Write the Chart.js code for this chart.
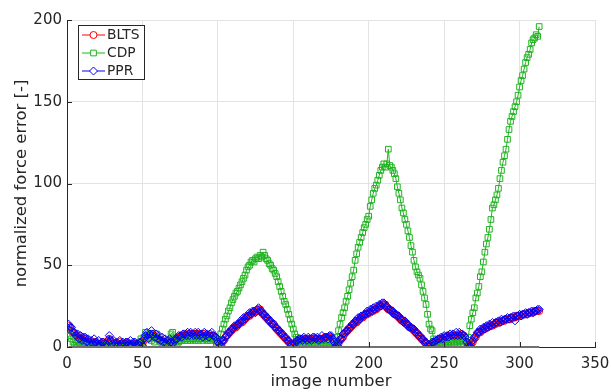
<!DOCTYPE html>
<html>
<head>
<meta charset="utf-8">
<script src="https://cdn.jsdelivr.net/npm/chart.js@4/dist/chart.umd.min.js"></script>
<style>
  html, body { margin: 0; padding: 0; background: #fff; }
  #c { display: block; }
</style>
</head>
<body>
<canvas id="c" width="611" height="392"></canvas>
<script>
// Normalized force error per image, images 1..313
const firstImage = 1;

const blts = [
  13, 12, 10, 9, 8, 7, 6, 6, 5, 5,
  5, 5, 4, 3, 3, 3, 2, 3, 3, 2,
  2, 2, 2, 3, 2, 2, 3, 5, 4, 3,
  2, 2, 2, 2, 3, 2, 2, 2, 2, 3,
  2, 2, 2, 2, 2, 2, 2, 2, 2, 2,
  4, 6, 7, 6, 7, 8, 8, 6, 6, 5,
  5, 4, 4, 3, 3, 3, 3, 3, 3, 3,
  3, 4, 5, 6, 6, 7, 7, 7, 7, 8,
  8, 8, 8, 8, 8, 7, 8, 8, 7, 8,
  8, 7, 7, 7, 7, 7, 7, 6, 5, 3,
  2, 2, 3, 4, 6, 7, 8, 9, 10, 11,
  12, 12, 13, 14, 15, 15, 16, 17, 18, 19,
  19, 20, 21, 21, 22, 22, 23, 23, 21, 20,
  19, 18, 17, 16, 15, 14, 14, 12, 11, 10,
  9, 8, 7, 6, 5, 4, 3, 2, 2, 1,
  2, 3, 3, 4, 4, 5, 5, 5, 5, 5,
  5, 5, 5, 5, 5, 5, 5, 5, 5, 5,
  6, 6, 6, 6, 6, 5, 3, 1, 1, 2,
  4, 5, 6, 8, 9, 10, 11, 12, 13, 14,
  15, 15, 16, 17, 18, 18, 19, 20, 20, 21,
  21, 22, 22, 23, 23, 24, 25, 25, 26, 26,
  26, 24, 23, 23, 22, 21, 20, 20, 19, 18,
  17, 16, 16, 15, 14, 13, 12, 12, 11, 10,
  9, 8, 7, 6, 5, 4, 3, 2, 1, 1,
  1, 2, 2, 3, 3, 4, 4, 5, 5, 6,
  6, 6, 7, 7, 7, 7, 7, 7, 7, 7,
  8, 7, 7, 6, 3, 2, 1, 2, 3, 5,
  6, 8, 9, 9, 10, 11, 11, 12, 12, 13,
  13, 13, 14, 14, 15, 15, 15, 16, 16, 16,
  17, 17, 17, 17, 18, 18, 18, 19, 19, 19,
  19, 20, 20, 20, 20, 21, 21, 21, 21, 22,
  22, 22, 22
];

const cdp = [
  10, 7, 5, 3, 1, 2, 0.5, 1, 2, 0.5,
  1, 0.5, 1, 0.5, 2, 1, 0.5, 1, 0.5, 0.5,
  1, 0.5, 0.5, 1, 0.5, 1, 0.5, 0.5, 1, 0.5,
  0.5, 1, 0.5, 0.5, 1, 0.5, 0.5, 1, 0.5, 0.5,
  1, 0.5, 0.5, 1, 0.5, 0.5, 1, 2, 5, 3,
  6, 9, 7, 8, 5, 4, 6, 3, 8, 5,
  4, 3, 2, 1, 0.5, 0.5, 1, 4, 8, 9,
  5, 3, 2, 3, 4, 4, 5, 4, 5, 4,
  5, 4, 5, 5, 4, 5, 4, 5, 5, 4,
  5, 5, 4, 5, 4, 5, 5, 4, 2, 1,
  4, 8, 11, 14, 17, 19, 22, 24, 27, 29,
  31, 33, 34, 36, 38, 40, 42, 44, 47, 49,
  50, 52, 53, 52, 54, 55, 54, 56, 55, 58,
  56, 54, 53, 51, 50, 48, 47, 45, 43, 40,
  37, 34, 31, 28, 26, 23, 20, 17, 14, 11,
  8, 6, 3, 1, 0.5, 0.5, 0.5, 1, 0.5, 0.5,
  0.5, 1, 0.5, 0.5, 0.5, 1, 0.5, 0.5, 0.5, 1,
  0.5, 0.5, 1, 2, 1, 0.5, 0.5, 1, 6, 10,
  14, 18, 21, 24, 28, 31, 35, 39, 43, 47,
  53, 57, 61, 64, 67, 70, 73, 75, 78, 80,
  86, 90, 94, 97, 99, 102, 105, 108, 110, 112,
  110, 112, 121, 111, 110, 108, 106, 103, 98, 94,
  90, 85, 82, 78, 75, 71, 67, 62, 58, 53,
  49, 46, 44, 42, 38, 34, 30, 26, 20, 14,
  11, 10, 5, 1, 0.5, 0.5, 1, 0.5, 1, 2,
  1, 2, 1, 2, 3, 2, 2, 3, 2, 3,
  4, 3, 4, 5, 3, 6, 13, 17, 21, 24,
  30, 33, 37, 43, 46, 52, 58, 63, 67, 72,
  78, 85, 87, 90, 93, 97, 103, 108, 113, 117,
  121, 127, 133, 138, 141, 144, 147, 150, 154, 159,
  163, 166, 170, 174, 177, 179, 182, 186, 188, 189,
  191, 190, 196
];

const ppr = [
  14, 12, 12, 9, 9, 7, 8, 5, 7, 4,
  6, 6, 3, 5, 2, 4, 2, 5, 3, 1,
  4, 1, 3, 3, 1, 2, 4, 7, 4, 2,
  4, 2, 3, 1, 4, 2, 3, 1, 3, 3,
  1, 4, 1, 3, 3, 1, 2, 3, 3, 1,
  5, 7, 9, 5, 8, 10, 8, 6, 8, 5,
  7, 4, 6, 3, 5, 2, 4, 5, 3, 2,
  4, 5, 5, 7, 7, 6, 8, 8, 7, 9,
  7, 9, 8, 7, 9, 7, 9, 7, 8, 6,
  9, 7, 8, 6, 8, 9, 7, 6, 6, 3,
  2, 1, 4, 4, 6, 7, 9, 9, 11, 11,
  13, 13, 14, 14, 16, 16, 18, 17, 19, 19,
  21, 20, 22, 22, 21, 23, 24, 22, 22, 20,
  20, 18, 18, 16, 16, 14, 14, 12, 12, 10,
  10, 8, 8, 6, 6, 4, 4, 2, 1, 0.5,
  2, 4, 4, 5, 5, 4, 6, 5, 4, 6,
  5, 4, 6, 6, 5, 6, 4, 5, 7, 5,
  6, 6, 5, 7, 7, 5, 3, 0.5, 1, 3,
  5, 5, 8, 8, 10, 10, 12, 12, 14, 14,
  16, 16, 18, 17, 19, 19, 20, 20, 22, 21,
  23, 22, 24, 23, 25, 24, 26, 25, 27, 27,
  25, 25, 23, 23, 22, 22, 20, 20, 19, 19,
  17, 17, 15, 16, 14, 14, 12, 12, 11, 11,
  9, 9, 7, 7, 5, 5, 3, 3, 1, 0.5,
  1, 3, 3, 4, 4, 5, 5, 6, 5, 7,
  6, 7, 6, 8, 7, 8, 7, 9, 7, 9,
  7, 8, 7, 6, 3, 1, 0.5, 3, 4, 6,
  7, 9, 9, 11, 10, 12, 11, 13, 12, 14,
  13, 15, 14, 15, 15, 16, 15, 17, 16, 17,
  17, 18, 17, 18, 18, 19, 16, 19, 19, 20,
  19, 20, 20, 21, 20, 21, 21, 22, 21, 22,
  22, 23, 23
];

// Zero reference line drawn across the processed images
const zeroLevel = 0;
const zeroSpan = [1, 313];

const xTicks = [0, 50, 100, 150, 200, 250, 300, 350];
const yTicks = [0, 50, 100, 150, 200];
const xTitle = 'image number';
const yTitle = 'normalized force error [-]';

const toPoints = arr => arr.map((v, i) => ({ x: firstImage + i, y: v }));

const RED = '#ff0000';
const GREEN = '#1fb31f';
const BLUE = '#0000ff';
const AXIS = '#262626';

// MATLAB-style inward tick marks on the left and bottom axes
const innerTicks = {
  id: 'innerTicks',
  afterDatasetsDraw(chart) {
    const { ctx, chartArea: a, scales: { x, y } } = chart;
    ctx.save();
    ctx.strokeStyle = AXIS;
    ctx.lineWidth = 1;
    ctx.beginPath();
    xTicks.forEach(t => {
      const px = Math.round(x.getPixelForValue(t)) + 0.5;
      ctx.moveTo(px, a.bottom);
      ctx.lineTo(px, a.bottom - 5);
    });
    yTicks.forEach(t => {
      const py = Math.round(y.getPixelForValue(t)) + 0.5;
      ctx.moveTo(a.left, py);
      ctx.lineTo(a.left + 5, py);
    });
    ctx.stroke();
    ctx.restore();
  }
};

// Boxed legend in the upper-left corner of the plot area
const boxLegend = {
  id: 'boxLegend',
  afterDraw(chart) {
    const { ctx, chartArea: a } = chart;
    const items = chart.data.datasets.filter(d => d.inLegend);
    const x0 = a.left + 11, y0 = a.top + 5;
    const w = 66, rowH = 18, h = items.length * rowH;
    ctx.save();
    ctx.fillStyle = '#fff';
    ctx.fillRect(x0, y0, w, h);
    ctx.strokeStyle = AXIS;
    ctx.lineWidth = 1;
    ctx.strokeRect(x0 + 0.5, y0 + 0.5, w, h);
    ctx.font = '13.8px "DejaVu Sans"';
    ctx.textBaseline = 'middle';
    items.forEach((d, i) => {
      const cy = y0 + 10 + i * rowH;
      ctx.strokeStyle = d.borderColor;
      ctx.lineWidth = 1;
      ctx.beginPath();
      ctx.moveTo(x0 + 4, cy);
      ctx.lineTo(x0 + 27, cy);
      ctx.stroke();
      ctx.fillStyle = '#fff';
      Chart.helpers.drawPoint(ctx, {
        pointStyle: d.pointStyle,
        radius: d.pointRadius,
        borderWidth: 1,
        rotation: 0
      }, x0 + 15.5, cy);
      ctx.fillStyle = AXIS;
      ctx.fillText(d.label, x0 + 29, cy + 0.5);
    });
    ctx.restore();
  }
};

const series = (label, data, color, style, radius, order) => ({
  label, data: toPoints(data), inLegend: true,
  borderColor: color, backgroundColor: 'rgba(0,0,0,0)',
  borderWidth: 1, pointStyle: style, pointRadius: radius,
  pointBorderWidth: 1, pointBorderColor: color,
  pointBackgroundColor: 'rgba(0,0,0,0)', order
});

new Chart(document.getElementById('c'), {
  type: 'line',
  data: {
    datasets: [
      series('BLTS', blts, RED, 'circle', 3.5, 3),
      series('CDP', cdp, GREEN, 'rect', 4, 2),
      series('PPR', ppr, BLUE, 'rectRot', 4, 1),
      {
        label: 'zero', inLegend: false,
        data: zeroSpan.map(v => ({ x: v, y: zeroLevel })),
        borderColor: '#707070', borderWidth: 2, pointRadius: 0, order: 0,
        clip: 4
      }
    ]
  },
  options: {
    responsive: false,
    animation: false,
    devicePixelRatio: 1,
    layout: { padding: { left: 0, right: 16, top: 20, bottom: 0 } },
    plugins: { legend: { display: false }, tooltip: { enabled: false } },
    scales: {
      x: {
        type: 'linear', min: 0, max: 350,
        afterFit: s => { s.height = 45; s.paddingLeft = 0; s.paddingRight = 0; },
        afterBuildTicks: s => { s.ticks = xTicks.map(v => ({ value: v })); },
        grid: { color: '#e3e3e3', drawTicks: false, lineWidth: 1 },
        border: { color: AXIS, width: 1 },
        ticks: { padding: 8, color: AXIS, font: { family: 'DejaVu Sans', size: 15 }, maxRotation: 0 },
        title: { display: true, text: xTitle, color: AXIS,
                 font: { family: 'DejaVu Sans', size: 16.5 }, padding: { top: 0, bottom: 0 } }
      },
      y: {
        type: 'linear', min: 0, max: 200,
        afterFit: s => { s.width = 67; s.paddingTop = 0; s.paddingBottom = 0; },
        afterBuildTicks: s => { s.ticks = yTicks.map(v => ({ value: v })); },
        grid: { color: '#e3e3e3', drawTicks: false, lineWidth: 1 },
        border: { color: AXIS, width: 1 },
        ticks: { padding: 5, color: AXIS, font: { family: 'DejaVu Sans', size: 15 } },
        title: { display: true, text: yTitle, color: AXIS,
                 font: { family: 'DejaVu Sans', size: 16.5 }, padding: { top: 12, bottom: 0 } }
      }
    }
  },
  plugins: [innerTicks, boxLegend]
});
</script>
</body>
</html>
